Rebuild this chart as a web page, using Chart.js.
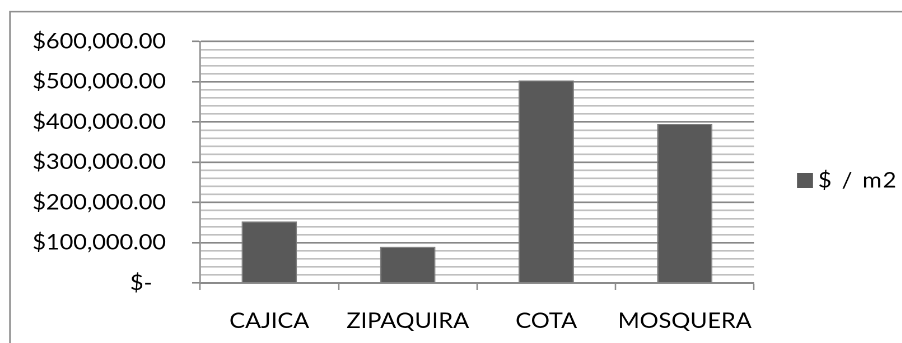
<!DOCTYPE html>
<html>
<head>
<meta charset="utf-8">
<title>$ / m2</title>
<script src="https://cdn.jsdelivr.net/npm/chart.js@4.4.1/dist/chart.umd.min.js"></script>
<style>
  html, body { margin: 0; padding: 0; background: #fff; overflow: hidden; }
  #wrap { width: 806px; height: 343px; transform: scaleX(1.12); transform-origin: 0 0; }
</style>
</head>
<body>
<div id="wrap"><canvas id="c" width="806" height="343"></canvas></div>
<script>
// Price per square metre by municipality
const categories = ['CAJICA', 'ZIPAQUIRA', 'COTA', 'MOSQUERA'];
const pricePerM2 = [153000, 90000, 503000, 395000];
const seriesLabel = '$ / m2';
const yTickLabels = ['$-', '$100,000.00', '$200,000.00', '$300,000.00', '$400,000.00', '$500,000.00', '$600,000.00'];

const FONT = { family: 'Lato, "Open Sans", sans-serif', size: 21 };
const MAJOR = 100000;

// Frame around the chart (top and left edges)
const framePlugin = {
  id: 'frame',
  beforeDraw(chart) {
    const ctx = chart.ctx;
    ctx.save();
    ctx.strokeStyle = '#8f8f8f';
    ctx.lineWidth = 1.5;
    ctx.beginPath();
    ctx.moveTo(8.9, chart.height);
    ctx.lineTo(8.9, 11.6);
    ctx.lineTo(chart.width, 11.6);
    ctx.stroke();
    ctx.restore();
  }
};

// Series key to the right of the plot
const keyPlugin = {
  id: 'seriesKey',
  afterDraw(chart) {
    const ctx = chart.ctx;
    const ds = chart.data.datasets[0];
    const x = 711.6, yMid = 180.5;
    ctx.save();
    ctx.fillStyle = ds.backgroundColor;
    ctx.fillRect(x, yMid - 7.5, 14.3, 15);
    ctx.fillStyle = '#000';
    ctx.font = `${FONT.size}px ${FONT.family}`;
    ctx.letterSpacing = '0.8px';
    ctx.wordSpacing = '2px';
    ctx.textBaseline = 'middle';
    ctx.textAlign = 'left';
    ctx.fillText(ds.label, x + 18.8, yMid);
    ctx.restore();
  }
};

new Chart(document.getElementById('c'), {
  type: 'bar',
  data: {
    labels: categories,
    datasets: [{
      label: seriesLabel,
      data: pricePerM2,
      backgroundColor: '#595959',
      borderColor: '#7d7d7d',
      borderWidth: 1,
      categoryPercentage: 1,
      barPercentage: 0.4
    }]
  },
  options: {
    responsive: false,
    animation: false,
    devicePixelRatio: 2,
    layout: { padding: { left: 0, top: 41.5, right: 132.8, bottom: 0 } },
    plugins: {
      legend: { display: false },
      tooltip: { enabled: false }
    },
    scales: {
      x: {
        offset: true,
        grid: {
          offset: true,
          drawOnChartArea: false,
          drawTicks: true,
          tickLength: 7,
          tickColor: '#8c8c8c',
          tickWidth: 1.3
        },
        border: { color: '#8c8c8c', width: 1.5 },
        ticks: { color: '#000', font: FONT, padding: 18.4, maxRotation: 0, autoSkip: false },
        afterFit(scale) { scale.height = 60; }
      },
      y: {
        min: 0,
        max: 600000,
        grid: {
          color: c => (c.tick.value % MAJOR === 0 ? '#888888' : '#c0c0c0'),
          lineWidth: 1.6,
          tickLength: 7.1,
          tickColor: c => (c.tick.value % MAJOR === 0 ? '#888888' : 'rgba(0,0,0,0)'),
          tickWidth: 1.6
        },
        border: { color: '#8c8c8c', width: 1.3 },
        ticks: {
          stepSize: 20000,
          autoSkip: false,
          color: '#000',
          font: FONT,
          padding: 23.3,
          callback(value) {
            if (value % MAJOR !== 0) return '';
            const label = yTickLabels[value / MAJOR];
            return value === 0 ? label + '\u2007' : label;
          }
        },
        afterFit(scale) { scale.width = 178.6; }
      }
    }
  },
  plugins: [framePlugin, keyPlugin]
});
</script>
</body>
</html>
